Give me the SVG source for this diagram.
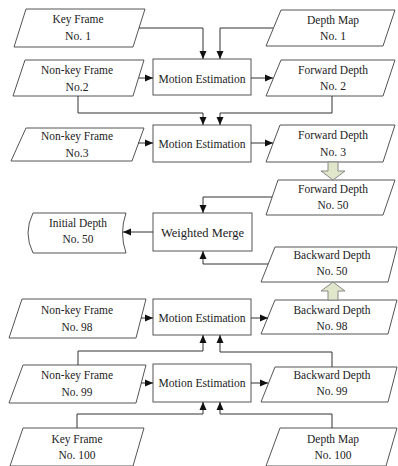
<svg xmlns="http://www.w3.org/2000/svg" width="398" height="466" viewBox="0 0 398 466">
<style>
.shape{fill:#fff;stroke:#555;stroke-width:1}
.t{font-family:"Liberation Serif","Times New Roman",serif;font-size:13.5px;fill:#222;text-anchor:middle}
.c{fill:none;stroke:#333;stroke-width:1}
.big{fill:#dfe6c9;stroke:#888;stroke-width:1}
</style>
<defs>
<marker id="ah" markerUnits="userSpaceOnUse" markerWidth="9" markerHeight="8" refX="8" refY="4" orient="auto">
<path d="M0,0.5 L8,4 L0,7.5 z" fill="#111"/>
</marker>
</defs>
<rect width="398" height="466" fill="#fff"/>

<g id="kf1"><polygon class="shape" points="26,9 145,9 133,47 14,47"/>
<text class="t" x="78" y="23" textLength="51" lengthAdjust="spacingAndGlyphs">Key Frame</text>
<text class="t" x="78" y="40" textLength="26" lengthAdjust="spacingAndGlyphs">No. 1</text></g>

<g id="dm1"><polygon class="shape" points="281,10 395,10 383,46 266,46"/>
<text class="t" x="333" y="24" textLength="52" lengthAdjust="spacingAndGlyphs">Depth Map</text>
<text class="t" x="333" y="40" textLength="26" lengthAdjust="spacingAndGlyphs">No. 1</text></g>

<g id="nkf2"><polygon class="shape" points="25,60 144,60 133,96 13,96"/>
<text class="t" x="77" y="74" textLength="72" lengthAdjust="spacingAndGlyphs">Non-key Frame</text>
<text class="t" x="77" y="91" textLength="23" lengthAdjust="spacingAndGlyphs">No.2</text></g>

<g id="me1"><rect class="shape" x="153" y="59" width="98" height="36"/>
<text class="t" x="202" y="82.5" textLength="87" lengthAdjust="spacingAndGlyphs">Motion Estimation</text></g>

<g id="fd2"><polygon class="shape" points="281,60 395,60 383,96 266,96"/>
<text class="t" x="333" y="74" textLength="70" lengthAdjust="spacingAndGlyphs">Forward Depth</text>
<text class="t" x="333" y="90" textLength="26" lengthAdjust="spacingAndGlyphs">No. 2</text></g>

<g id="nkf3"><polygon class="shape" points="26,128 144,128 132,161 11,161"/>
<text class="t" x="77" y="139.5" textLength="72" lengthAdjust="spacingAndGlyphs">Non-key Frame</text>
<text class="t" x="77" y="157" textLength="23" lengthAdjust="spacingAndGlyphs">No.3</text></g>

<g id="me2"><rect class="shape" x="153" y="125" width="98" height="37"/>
<text class="t" x="202" y="147.5" textLength="87" lengthAdjust="spacingAndGlyphs">Motion Estimation</text></g>

<g id="fd3"><polygon class="shape" points="280,125 395,125 383,162 266,162"/>
<text class="t" x="333" y="139" textLength="70" lengthAdjust="spacingAndGlyphs">Forward Depth</text>
<text class="t" x="333" y="156" textLength="26" lengthAdjust="spacingAndGlyphs">No. 3</text></g>

<g id="fd50"><polygon class="shape" points="278,180 395,180 383,215 266,215"/>
<text class="t" x="333" y="193" textLength="70" lengthAdjust="spacingAndGlyphs">Forward Depth</text>
<text class="t" x="333" y="209" textLength="31" lengthAdjust="spacingAndGlyphs">No. 50</text></g>

<g id="id50"><path class="shape" d="M33,213 H126 Q119,233 126,253 H33 Q23,233 33,213 Z"/>
<text class="t" x="78" y="227" textLength="58" lengthAdjust="spacingAndGlyphs">Initial Depth</text>
<text class="t" x="78" y="243" textLength="31" lengthAdjust="spacingAndGlyphs">No. 50</text></g>

<g id="wm"><rect class="shape" x="153" y="213" width="99" height="38"/>
<text class="t" x="202.5" y="237" textLength="83" lengthAdjust="spacingAndGlyphs">Weighted Merge</text></g>

<g id="bd50"><polygon class="shape" points="275,247 397,247 388,282 261,282"/>
<text class="t" x="332" y="259" textLength="77" lengthAdjust="spacingAndGlyphs">Backward Depth</text>
<text class="t" x="332" y="275" textLength="31" lengthAdjust="spacingAndGlyphs">No. 50</text></g>

<g id="nkf98"><polygon class="shape" points="22,299 146,299 136,338 9,338"/>
<text class="t" x="77" y="314" textLength="72" lengthAdjust="spacingAndGlyphs">Non-key Frame</text>
<text class="t" x="77" y="331" textLength="31" lengthAdjust="spacingAndGlyphs">No. 98</text></g>

<g id="me3"><rect class="shape" x="153" y="299" width="98" height="36"/>
<text class="t" x="202" y="322" textLength="87" lengthAdjust="spacingAndGlyphs">Motion Estimation</text></g>

<g id="bd98"><polygon class="shape" points="275,300 397,300 388,334 261,334"/>
<text class="t" x="332" y="314" textLength="77" lengthAdjust="spacingAndGlyphs">Backward Depth</text>
<text class="t" x="332" y="330" textLength="31" lengthAdjust="spacingAndGlyphs">No. 98</text></g>

<g id="nkf99"><polygon class="shape" points="23,365 146,365 136,403 9,403"/>
<text class="t" x="77" y="379" textLength="72" lengthAdjust="spacingAndGlyphs">Non-key Frame</text>
<text class="t" x="77" y="396" textLength="31" lengthAdjust="spacingAndGlyphs">No. 99</text></g>

<g id="me4"><rect class="shape" x="153" y="364" width="98" height="38"/>
<text class="t" x="202" y="387" textLength="87" lengthAdjust="spacingAndGlyphs">Motion Estimation</text></g>

<g id="bd99"><polygon class="shape" points="275,367 397,367 388,402 261,402"/>
<text class="t" x="332" y="379" textLength="77" lengthAdjust="spacingAndGlyphs">Backward Depth</text>
<text class="t" x="332" y="395" textLength="31" lengthAdjust="spacingAndGlyphs">No. 99</text></g>

<g id="kf100"><polygon class="shape" points="23,428 144,428 133,466 10,466"/>
<text class="t" x="77" y="443" textLength="51" lengthAdjust="spacingAndGlyphs">Key Frame</text>
<text class="t" x="77" y="459" textLength="37" lengthAdjust="spacingAndGlyphs">No. 100</text></g>

<g id="dm100"><polygon class="shape" points="280,428 397,428 386,466 266,466"/>
<text class="t" x="333" y="443" textLength="52" lengthAdjust="spacingAndGlyphs">Depth Map</text>
<text class="t" x="333" y="459" textLength="37" lengthAdjust="spacingAndGlyphs">No. 100</text></g>

<g id="connectors">
<polyline class="c" points="139,28 203,28 203,59" marker-end="url(#ah)"/>
<polyline class="c" points="273,28 220,28 220,59" marker-end="url(#ah)"/>
<line class="c" x1="139" y1="78" x2="153" y2="78" marker-end="url(#ah)"/>
<line class="c" x1="251" y1="78" x2="273" y2="78" marker-end="url(#ah)"/>
<polyline class="c" points="78,96 78,113 203,113 203,125" marker-end="url(#ah)"/>
<polyline class="c" points="332,96 332,113 220,113 220,125" marker-end="url(#ah)"/>
<line class="c" x1="138" y1="143" x2="153" y2="143" marker-end="url(#ah)"/>
<line class="c" x1="251" y1="143" x2="273" y2="143" marker-end="url(#ah)"/>
<path class="big" d="M328,162 H338 V171 H345 L333,180 L321,171 H328 Z"/>
<polyline class="c" points="272,197 203,197 203,213" marker-end="url(#ah)"/>
<line class="c" x1="153" y1="232" x2="123" y2="232" marker-end="url(#ah)"/>
<polyline class="c" points="268,264 203,264 203,251" marker-end="url(#ah)"/>
<path class="big" d="M328,300 H338 V291 H345 L333,282 L321,291 H328 Z"/>
<line class="c" x1="141" y1="318" x2="153" y2="318" marker-end="url(#ah)"/>
<line class="c" x1="251" y1="318" x2="268" y2="318" marker-end="url(#ah)"/>
<polyline class="c" points="78,365 78,351 203,351 203,335" marker-end="url(#ah)"/>
<polyline class="c" points="332,367 332,352 220,352 220,335" marker-end="url(#ah)"/>
<line class="c" x1="141" y1="383" x2="153" y2="383" marker-end="url(#ah)"/>
<line class="c" x1="251" y1="383" x2="268" y2="383" marker-end="url(#ah)"/>
<polyline class="c" points="77,428 77,414 203,414 203,402" marker-end="url(#ah)"/>
<polyline class="c" points="332,428 332,414 220,414 220,402" marker-end="url(#ah)"/>
</g>
</svg>
